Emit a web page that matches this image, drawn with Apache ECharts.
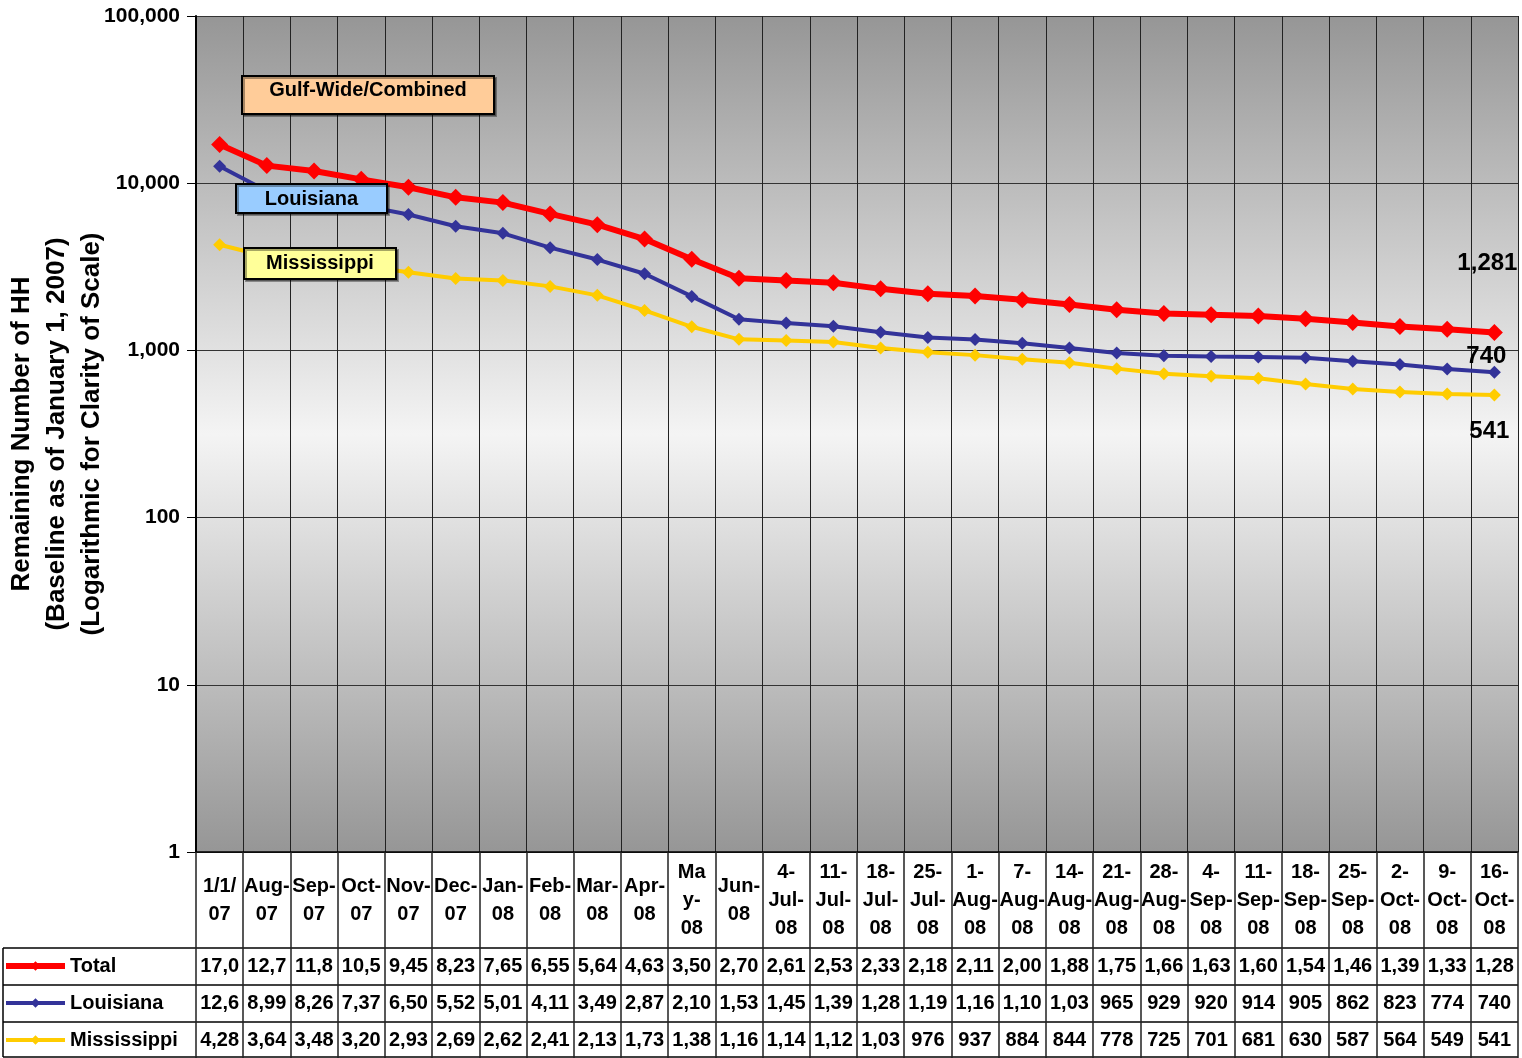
<!DOCTYPE html>
<html>
<head>
<meta charset="utf-8">
<title>Remaining Number of HH</title>
<script src="https://cdn.jsdelivr.net/npm/echarts@6/dist/echarts.min.js"></script>
<style>
  html, body { margin: 0; padding: 0; background: #ffffff; }
  #chart { width: 1522px; height: 1058px; }
</style>
</head>
<body>
<div id="chart"></div>
<script>
// categories (as dates) and the header text shown in the table
const categories = ["1/1/07", "Aug-07", "Sep-07", "Oct-07", "Nov-07", "Dec-07", "Jan-08", "Feb-08", "Mar-08", "Apr-08",
  "May-08", "Jun-08", "4-Jul-08", "11-Jul-08", "18-Jul-08", "25-Jul-08", "1-Aug-08", "7-Aug-08", "14-Aug-08",
  "21-Aug-08", "28-Aug-08", "4-Sep-08", "11-Sep-08", "18-Sep-08", "25-Sep-08", "2-Oct-08", "9-Oct-08", "16-Oct-08"];
const headerLabels = ["1/1/\n07", "Aug-\n07", "Sep-\n07", "Oct-\n07", "Nov-\n07", "Dec-\n07", "Jan-\n08", "Feb-\n08",
  "Mar-\n08", "Apr-\n08", "Ma\ny-\n08", "Jun-\n08", "4-\nJul-\n08", "11-\nJul-\n08", "18-\nJul-\n08", "25-\nJul-\n08",
  "1-\nAug-\n08", "7-\nAug-\n08", "14-\nAug-\n08", "21-\nAug-\n08", "28-\nAug-\n08", "4-\nSep-\n08", "11-\nSep-\n08",
  "18-\nSep-\n08", "25-\nSep-\n08", "2-\nOct-\n08", "9-\nOct-\n08", "16-\nOct-\n08"];

// series values (last digits of the larger numbers are cut off in the table, estimated)
const totalHH = [17043, 12739, 11832, 10545, 9452, 8233, 7654, 6551, 5647, 4634, 3505, 2704, 2615, 2536, 2334, 2183,
  2113, 2006, 1884, 1752, 1664, 1634, 1606, 1545, 1468, 1391, 1336, 1281];
const louisianaHH = [12636, 8994, 8264, 7372, 6503, 5524, 5013, 4115, 3494, 2873, 2104, 1535, 1456, 1394, 1284, 1195,
  1163, 1104, 1035, 965, 929, 920, 914, 905, 862, 823, 774, 740];
const mississippiHH = [4284, 3645, 3483, 3205, 2935, 2694, 2623, 2415, 2134, 1735, 1384, 1165, 1145, 1124, 1035, 976,
  937, 884, 844, 778, 725, 701, 681, 630, 587, 564, 549, 541];

const yTicks = [1, 10, 100, 1000, 10000, 100000];

const FONT = "'Liberation Sans', Arial, sans-serif";
const gridLeft = 196, gridRight = 4, gridTop = 16, gridBottom = 206;
const W = 1522, H = 1058;

let chart = echarts.init(document.getElementById("chart"));

function fmt(n) {
  return n.toLocaleString("en-US");
}

// one extra x axis per table row, showing values under each category
function rowAxis(values, margin) {
  return {
    type: "category",
    data: categories,
    position: "bottom",
    axisLine: { show: false },
    axisTick: { show: false },
    splitLine: { show: false },
    axisLabel: {
      interval: 0,
      margin: margin,
      verticalAlign: "middle",
      fontFamily: FONT,
      fontWeight: "bold",
      fontSize: 20,
      color: "#000",
      width: 45,
      overflow: "truncate",
      ellipsis: "",
      formatter: (v, i) => fmt(values[i]),
    },
  };
}

function endLabel(last, position, offset) {
  return {
    show: true,
    position: position,
    offset: offset,
    fontFamily: FONT,
    fontWeight: "bold",
    fontSize: 24,
    color: "#000",
    formatter: (p) => (p.dataIndex === last ? fmt(p.value) : ""),
  };
}

const last = categories.length - 1;
const tableBottom = H - 1;
const tableLines = [948, 985, 1022, tableBottom];

let graphics = [];
// table borders
tableLines.forEach((y) => {
  graphics.push({
    type: "line",
    shape: { x1: 3, y1: y, x2: W - gridRight, y2: y },
    style: { stroke: "#000", lineWidth: 1.5 },
  });
});
graphics.push({
  type: "line",
  shape: { x1: 3, y1: 948, x2: 3, y2: tableBottom },
  style: { stroke: "#000", lineWidth: 1.5 },
});

// annotation boxes
const boxes = [
  { text: "Gulf-Wide/Combined", x: 242, y: 76, w: 252, h: 38, ty: 90, fill: "#ffcc99" },
  { text: "Louisiana", x: 236, y: 184, w: 151, h: 29, ty: 199, fill: "#99ccff" },
  { text: "Mississippi", x: 244, y: 248, w: 152, h: 31, ty: 263, fill: "#ffff99" },
];
boxes.forEach((b) => {
  graphics.push({
    type: "rect",
    z: 100,
    shape: { x: b.x, y: b.y, width: b.w, height: b.h },
    style: { fill: b.fill, stroke: "#000", lineWidth: 2, shadowColor: "rgba(0,0,0,0.35)", shadowOffsetX: 2, shadowOffsetY: 2 },
  });
  graphics.push({
    type: "text",
    z: 101,
    style: {
      x: b.x + b.w / 2,
      y: b.ty,
      text: b.text,
      align: "center",
      verticalAlign: "middle",
      fontFamily: FONT,
      fontWeight: "bold",
      fontSize: 20,
      fill: "#000",
    },
  });
});

let option = {
  animation: false,
  backgroundColor: "#ffffff",
  textStyle: { fontFamily: FONT },
  grid: {
    left: gridLeft,
    right: gridRight,
    top: gridTop,
    bottom: gridBottom,
    outerBoundsMode: "none",
    containLabel: false,
    show: true,
    borderWidth: 0,
    backgroundColor: new echarts.graphic.LinearGradient(0, 0, 0, 1, [
      { offset: 0, color: "#969696" },
      { offset: 0.5, color: "#f4f4f4" },
      { offset: 1, color: "#969696" },
    ]),
  },
  legend: {
    orient: "vertical",
    left: 3,
    top: 956,
    padding: 0,
    itemGap: 17,
    itemWidth: 59,
    itemHeight: 12,
    data: [
      { name: "Total", lineStyle: { width: 6 } },
      { name: "Louisiana", lineStyle: { width: 4 } },
      { name: "Mississippi", lineStyle: { width: 4 } },
    ],
    textStyle: { fontFamily: FONT, fontWeight: "bold", fontSize: 20, color: "#000", lineHeight: 20 },
  },
  xAxis: [
    {
      type: "category",
      data: categories,
      boundaryGap: true,
      axisLine: { show: true, lineStyle: { color: "#000", width: 1.5 } },
      axisTick: { show: true, interval: 0, length: gridBottom, lineStyle: { color: "#222", width: 1.5 } },
      splitLine: { show: true, interval: 0, lineStyle: { color: "#222", width: 1 } },
      axisLabel: {
        interval: 0,
        margin: 48,
        verticalAlign: "middle",
        lineHeight: 28,
        fontFamily: FONT,
        fontWeight: "bold",
        fontSize: 20,
        color: "#000",
        formatter: (v, i) => headerLabels[i],
      },
    },
    rowAxis(totalHH, 114),
    rowAxis(louisianaHH, 151),
    rowAxis(mississippiHH, 188),
  ],
  yAxis: {
    type: "log",
    logBase: 10,
    min: yTicks[0],
    max: yTicks[yTicks.length - 1],
    name: "Remaining Number of HH\n(Baseline as of January 1, 2007)\n(Logarithmic for Clarity of Scale)",
    nameLocation: "middle",
    nameRotate: 90,
    nameGap: 87,
    nameMoveOverlap: false,
    nameTextStyle: { fontFamily: FONT, fontWeight: "bold", fontSize: 26, lineHeight: 35, color: "#000" },
    axisLine: { show: true, lineStyle: { color: "#000", width: 2 } },
    axisTick: { show: true, length: 9, lineStyle: { color: "#000", width: 1 } },
    splitLine: { show: true, lineStyle: { color: "#333", width: 1 } },
    axisLabel: {
      margin: 16,
      fontFamily: FONT,
      fontWeight: "bold",
      fontSize: 21,
      color: "#000",
      formatter: (v) => fmt(v),
    },
  },
  series: [
    {
      name: "Total",
      type: "line",
      data: totalHH,
      z: 5,
      color: "#ff0000",
      symbol: "diamond",
      symbolSize: 17,
      lineStyle: { width: 6, color: "#ff0000" },
      itemStyle: { color: "#ff0000" },
      label: endLabel(last, "top", [-7, -44]),
    },
    {
      name: "Louisiana",
      type: "line",
      data: louisianaHH,
      z: 4,
      color: "#333399",
      symbol: "diamond",
      symbolSize: 13,
      lineStyle: { width: 4, color: "#333399" },
      itemStyle: { color: "#333399" },
      label: endLabel(last, "top", [-8, 8]),
    },
    {
      name: "Mississippi",
      type: "line",
      data: mississippiHH,
      z: 3,
      color: "#ffcc00",
      symbol: "diamond",
      symbolSize: 13,
      lineStyle: { width: 4, color: "#ffcc00" },
      itemStyle: { color: "#ffcc00" },
      label: endLabel(last, "bottom", [-5, 13]),
    },
  ],
  graphic: graphics,
};

chart.setOption(option);
</script>
</body>
</html>
